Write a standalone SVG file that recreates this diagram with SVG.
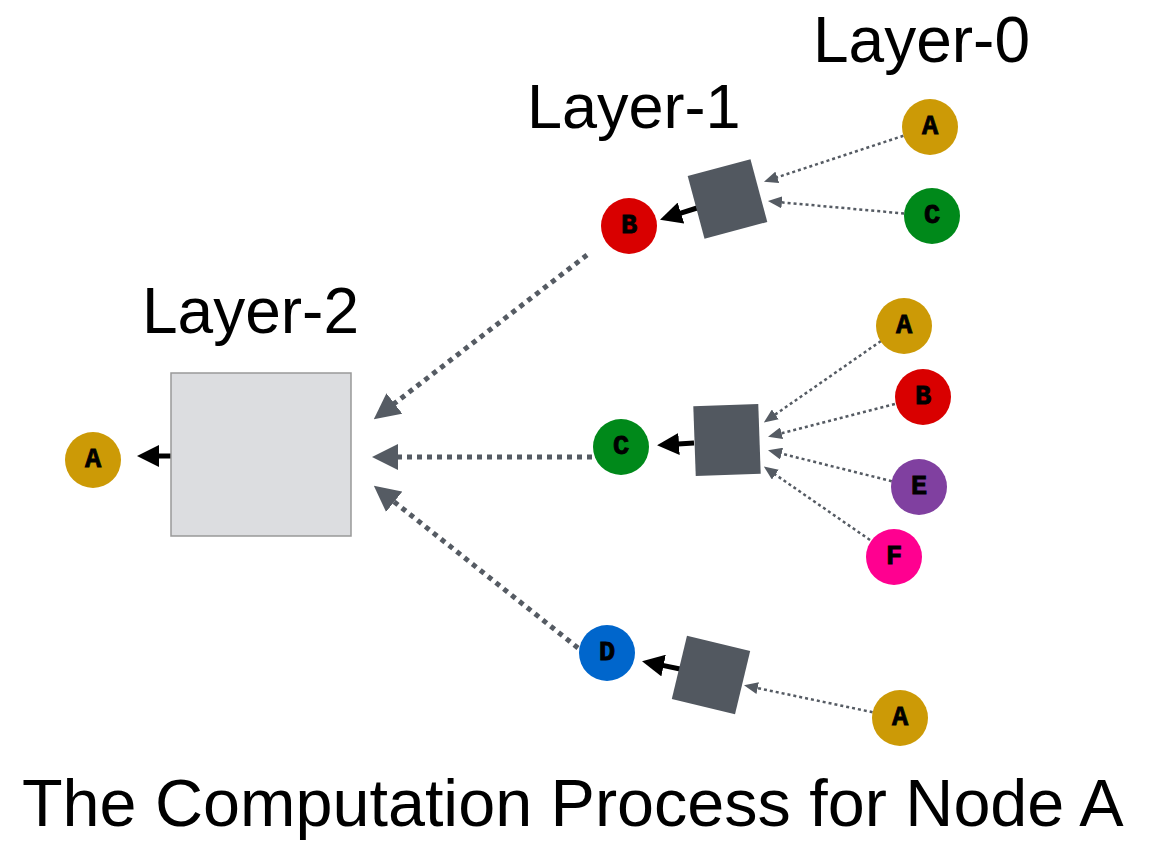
<svg xmlns="http://www.w3.org/2000/svg" width="1152" height="842" viewBox="0 0 1152 842">
<style>
.title{font-family:"Liberation Sans",Arial,sans-serif;fill:#000}
.lbl{font-family:"Liberation Mono","Courier New",monospace;font-weight:bold;font-size:27px;fill:#000;stroke:#000;stroke-width:0.8;text-anchor:middle;dominant-baseline:central}
.agg{fill:#525860}
.thick{stroke:#555b63;stroke-width:5;stroke-dasharray:5 5;fill:none}
.thin{stroke:#555b63;stroke-width:2.5;stroke-dasharray:3 3;fill:none}
.blk{stroke:#000;stroke-width:5;fill:none}
</style>
<defs>
<marker id="mThick" markerUnits="userSpaceOnUse" viewBox="0 0 26 26" refX="1" refY="13" markerWidth="26" markerHeight="26" orient="auto">
<path d="M0,0 L26,13 L0,26 z" fill="#555b63"/>
</marker>
<marker id="mThin" markerUnits="userSpaceOnUse" viewBox="0 0 14 12" refX="1" refY="6" markerWidth="14" markerHeight="12" orient="auto">
<path d="M0,0 L14,6 L0,12 z" fill="#555b63"/>
</marker>
<marker id="mBlk" markerUnits="userSpaceOnUse" viewBox="0 0 22 22" refX="1" refY="11" markerWidth="22" markerHeight="22" orient="auto">
<path d="M0,0 L22,11 L0,22 z" fill="#000"/>
</marker>
</defs>

<text class="title" x="813" y="62" font-size="64">Layer-0</text>
<text class="title" x="527" y="128" font-size="63">Layer-1</text>
<text class="title" x="142" y="333" font-size="64">Layer-2</text>
<text class="title" x="22" y="826" font-size="66.5">The Computation Process for Node A</text>

<g id="connectors">
<line class="thick" x1="587" y1="255" x2="393.6" y2="404.1" marker-end="url(#mThick)"/>
<line class="thick" x1="592" y1="457" x2="397" y2="457" marker-end="url(#mThick)"/>
<line class="thick" x1="578" y1="648" x2="393.4" y2="501.2" marker-end="url(#mThick)"/>
<line class="blk" x1="171" y1="456" x2="158" y2="456" marker-end="url(#mBlk)"/>
<line class="blk" x1="697" y1="208" x2="680" y2="213.4" marker-end="url(#mBlk)"/>
<line class="blk" x1="694" y1="443" x2="678" y2="444" marker-end="url(#mBlk)"/>
<line class="blk" x1="680" y1="669" x2="662.6" y2="665.4" marker-end="url(#mBlk)"/>
<line class="thin" x1="903.4" y1="135.8" x2="776.3" y2="177.6" marker-end="url(#mThin)"/>
<line class="thin" x1="904.1" y1="213.5" x2="780.9" y2="202.3" marker-end="url(#mThin)"/>
<line class="thin" x1="881" y1="341" x2="774.5" y2="415" marker-end="url(#mThin)"/>
<line class="thin" x1="894.9" y1="404" x2="780.6" y2="433.5" marker-end="url(#mThin)"/>
<line class="thin" x1="891.8" y1="481.2" x2="780.6" y2="453.4" marker-end="url(#mThin)"/>
<line class="thin" x1="870" y1="540" x2="774.5" y2="474" marker-end="url(#mThin)"/>
<line class="thin" x1="872.6" y1="712.2" x2="756.7" y2="687.9" marker-end="url(#mThin)"/>
</g>

<g id="agg2"><rect x="171" y="373" width="180" height="163" fill="#dcdde0" stroke="#999" stroke-width="1.5"/></g>
<g id="agg1-top"><rect class="agg" x="-32.5" y="-32.5" width="65" height="65" transform="translate(727.5,199) rotate(-15)"/></g>
<g id="agg1-mid"><rect class="agg" x="-32.5" y="-35" width="65" height="70" transform="translate(727,440) rotate(-2)"/></g>
<g id="agg1-bot"><rect class="agg" x="-32.5" y="-32.5" width="65" height="65" transform="translate(711,675) rotate(13.5)"/></g>

<g id="n2-A"><circle cx="93" cy="460" r="28" fill="#cc9a06"/><text class="lbl" x="93" y="460">A</text></g>
<g id="n1-B"><circle cx="629" cy="226" r="28" fill="#d90000"/><text class="lbl" x="629" y="226">B</text></g>
<g id="n1-C"><circle cx="621" cy="447" r="28" fill="#00891a"/><text class="lbl" x="621" y="447">C</text></g>
<g id="n1-D"><circle cx="607" cy="653" r="28" fill="#0066cc"/><text class="lbl" x="607" y="653">D</text></g>
<g id="n0-A1"><circle cx="930" cy="127" r="28" fill="#cc9a06"/><text class="lbl" x="930" y="127">A</text></g>
<g id="n0-C1"><circle cx="932" cy="216" r="28" fill="#00891a"/><text class="lbl" x="932" y="216">C</text></g>
<g id="n0-A2"><circle cx="904" cy="326" r="28" fill="#cc9a06"/><text class="lbl" x="904" y="326">A</text></g>
<g id="n0-B2"><circle cx="923" cy="397" r="28" fill="#d90000"/><text class="lbl" x="923" y="397">B</text></g>
<g id="n0-E2"><circle cx="919" cy="487" r="28" fill="#8040a0"/><text class="lbl" x="919" y="487">E</text></g>
<g id="n0-F2"><circle cx="894" cy="557" r="28" fill="#ff0090"/><text class="lbl" x="894" y="557">F</text></g>
<g id="n0-A3"><circle cx="900" cy="718" r="28" fill="#cc9a06"/><text class="lbl" x="900" y="718">A</text></g>
</svg>
